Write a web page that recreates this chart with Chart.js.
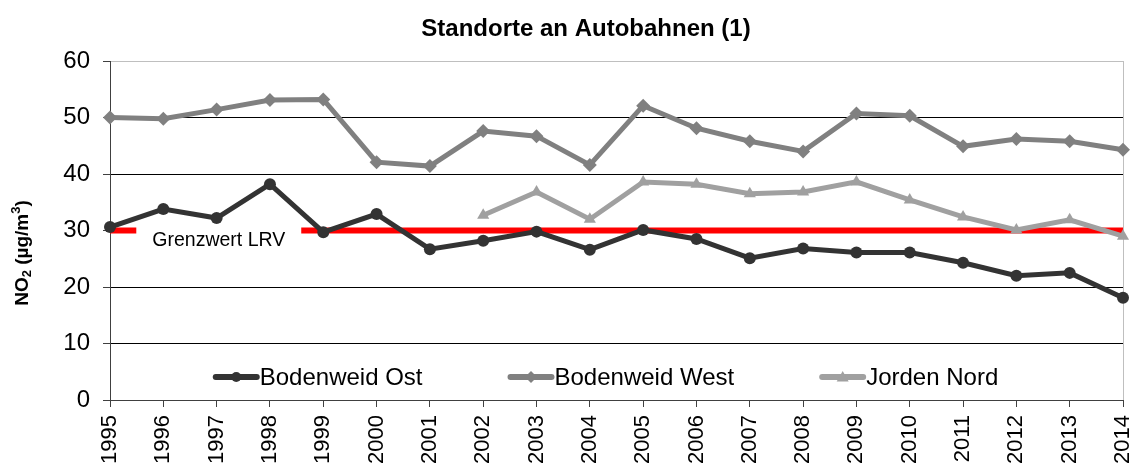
<!DOCTYPE html>
<html>
<head>
<meta charset="utf-8">
<script src="https://cdn.jsdelivr.net/npm/chart.js@4/dist/chart.umd.min.js"></script>
<style>
  html, body { margin: 0; padding: 0; background: #fff; }
  #wrap { width: 1138px; height: 469px; position: relative; }
</style>
</head>
<body>
<div id="wrap"><canvas id="chart"></canvas></div>
<script>
// --- DATA ---
const years = ['1995', '1996', '1997', '1998', '1999', '2000', '2001', '2002', '2003', '2004',
               '2005', '2006', '2007', '2008', '2009', '2010', '2011', '2012', '2013', '2014'];
const bodenweidOst  = [30.6, 33.8, 32.2, 38.2, 29.7, 32.9, 26.7, 28.2, 29.8, 26.6,
                       30.1, 28.5, 25.1, 26.8, 26.1, 26.1, 24.3, 22.0, 22.5, 18.1];
const bodenweidWest = [50.0, 49.8, 51.4, 53.1, 53.2, 42.1, 41.4, 47.6, 46.7, 41.6,
                       52.1, 48.1, 45.8, 44.0, 50.7, 50.3, 44.9, 46.2, 45.8, 44.3];
const jordenNord    = [null, null, null, null, null, null, null, 32.7, 36.8, 32.0,
                       38.6, 38.2, 36.5, 36.8, 38.6, 35.4, 32.4, 30.1, 31.9, 29.0];
const grenzwert     = years.map(() => 30);
const yTicks = [0, 10, 20, 30, 40, 50, 60];

const chartTitle = 'Standorte an Autobahnen (1)';
const limitLabel = 'Grenzwert LRV';
const FONT = "'Liberation Sans', Arial, sans-serif";

const series = [
    { label: 'Bodenweid Ost',  data: bodenweidOst,  color: '#333333', style: 'circle',   radius: 6 },
    { label: 'Bodenweid West', data: bodenweidWest, color: '#808080', style: 'rectRot',  radius: 7 },
    { label: 'Jorden Nord',    data: jordenNord,    color: '#a0a0a0', style: 'triangle', radius: 7 }
];

// --- HELPERS ---
function drawMarker(ctx, style, x, y, r, color) {
    ctx.save();
    ctx.fillStyle = color;
    ctx.beginPath();
    if (style === 'circle') {
        ctx.arc(x, y, r, 0, Math.PI * 2);
    } else if (style === 'rectRot') {
        ctx.moveTo(x, y - r); ctx.lineTo(x + r, y); ctx.lineTo(x, y + r); ctx.lineTo(x - r, y);
    } else {
        ctx.moveTo(x, y - r); ctx.lineTo(x + r, y + r * 0.75); ctx.lineTo(x - r, y + r * 0.75);
    }
    ctx.closePath();
    ctx.fill();
    ctx.restore();
}

// title, y title, limit label box and legend drawn by hand
const decorPlugin = {
    id: 'decor',
    afterDatasetDraw(chart, args) {
        if (args.index !== 3) return;
        const { ctx, scales: { x, y } } = chart;
        ctx.save();
        ctx.font = '19.5px ' + FONT;
        const tw = ctx.measureText(limitLabel).width;
        const cx = x.getPixelForValue(2.04);
        const cy = y.getPixelForValue(30);
        ctx.fillStyle = '#fff';
        ctx.fillRect(cx - tw / 2 - 16, cy - 5, tw + 32, 24);
        ctx.fillStyle = '#000';
        ctx.textAlign = 'center';
        ctx.textBaseline = 'middle';
        ctx.fillText(limitLabel, cx, cy + 10);
        ctx.restore();
    },
    afterDraw(chart) {
        const { ctx, chartArea } = chart;
        ctx.save();
        // chart title
        ctx.fillStyle = '#000';
        ctx.font = 'bold 24px ' + FONT;
        ctx.textAlign = 'center';
        ctx.textBaseline = 'middle';
        ctx.fillText(chartTitle, chart.width / 2 + 17, 29);

        // y axis title with sub/superscript
        ctx.translate(23, 253);
        ctx.rotate(-Math.PI / 2);
        const parts = [
            { t: 'NO', size: 19, dy: 0 },
            { t: '2', size: 13, dy: 4 },
            { t: ' (µg/m', size: 19, dy: 0 },
            { t: '3', size: 13, dy: -7 },
            { t: ')', size: 19, dy: 0 }
        ];
        let total = 0;
        parts.forEach(p => { ctx.font = 'bold ' + p.size + 'px ' + FONT; p.w = ctx.measureText(p.t).width; total += p.w; });
        let px = -total / 2;
        ctx.textAlign = 'left';
        parts.forEach(p => {
            ctx.font = 'bold ' + p.size + 'px ' + FONT;
            ctx.fillText(p.t, px, p.dy);
            px += p.w;
        });
        ctx.restore();

        // legend inside the plot, near the bottom
        ctx.save();
        ctx.font = '24px ' + FONT;
        ctx.textBaseline = 'middle';
        ctx.textAlign = 'left';
        const lineLen = 47, gap = 85;
        const widths = series.map(s => ctx.measureText(s.label).width);
        const totalW = widths.reduce((a, w) => a + w + lineLen, 0) + gap * (series.length - 1);
        let lx = (chartArea.left + chartArea.right) / 2 - 11 - totalW / 2;
        const ly = chartArea.bottom - 23;
        series.forEach((s, i) => {
            ctx.strokeStyle = s.color;
            ctx.lineWidth = 6;
            ctx.lineCap = 'round';
            ctx.beginPath();
            ctx.moveTo(lx + 3, ly);
            ctx.lineTo(lx + lineLen - 3, ly);
            ctx.stroke();
            drawMarker(ctx, s.style, lx + lineLen / 2, ly, s.radius - 1, s.color);
            ctx.fillStyle = '#000';
            ctx.fillText(s.label, lx + lineLen, ly + 1);
            lx += lineLen + widths[i] + gap;
        });
        ctx.restore();
    }
};

const datasets = series.map(s => ({
    label: s.label,
    data: s.data,
    borderColor: s.color,
    backgroundColor: s.color,
    borderWidth: 5,
    pointStyle: s.style,
    pointRadius: s.radius,
    pointBorderWidth: 0,
    pointBackgroundColor: s.color,
    tension: 0,
    spanGaps: false
}));
datasets.push({
    label: limitLabel,
    data: grenzwert,
    borderColor: '#ff0000',
    borderWidth: 6,
    borderCapStyle: 'butt',
    pointRadius: 0,
    tension: 0
});

new Chart(document.getElementById('chart'), {
    type: 'line',
    data: { labels: years, datasets: datasets },
    plugins: [decorPlugin],
    options: {
        responsive: true,
        maintainAspectRatio: false,
        animation: false,
        layout: { padding: { top: 61, right: 15, left: 0, bottom: 0 } },
        plugins: { legend: { display: false }, title: { display: false }, tooltip: { enabled: false } },
        scales: {
            x: {
                offset: false,
                grid: {
                    drawOnChartArea: true,
                    color: c => c.index === years.length - 1 ? '#bfbfbf' : 'rgba(0,0,0,0)',
                    tickColor: '#404040',
                    tickLength: 7,
                    lineWidth: 1
                },
                border: { color: '#404040', width: 1 },
                ticks: {
                    color: '#000',
                    font: { family: FONT, size: 22 },
                    minRotation: 90, maxRotation: 90,
                    padding: 8,
                    autoSkip: false
                },
                afterFit: s => { s.height = 69; s.paddingLeft = 0; s.paddingRight = 0; }
            },
            y: {
                min: 0, max: 60,
                afterBuildTicks: s => { s.ticks = yTicks.map(v => ({ value: v })); },
                grid: {
                    color: c => c.tick.value === 60 ? '#bfbfbf' : (c.tick.value === 0 ? 'rgba(0,0,0,0)' : '#000'),
                    tickColor: '#404040',
                    tickLength: 7,
                    lineWidth: 1
                },
                border: { color: '#404040', width: 1 },
                ticks: {
                    color: '#000',
                    font: { family: FONT, size: 24 },
                    padding: 13
                },
                afterFit: s => { s.width = 110; s.paddingTop = 0; s.paddingBottom = 0; }
            }
        }
    }
});
</script>
</body>
</html>
